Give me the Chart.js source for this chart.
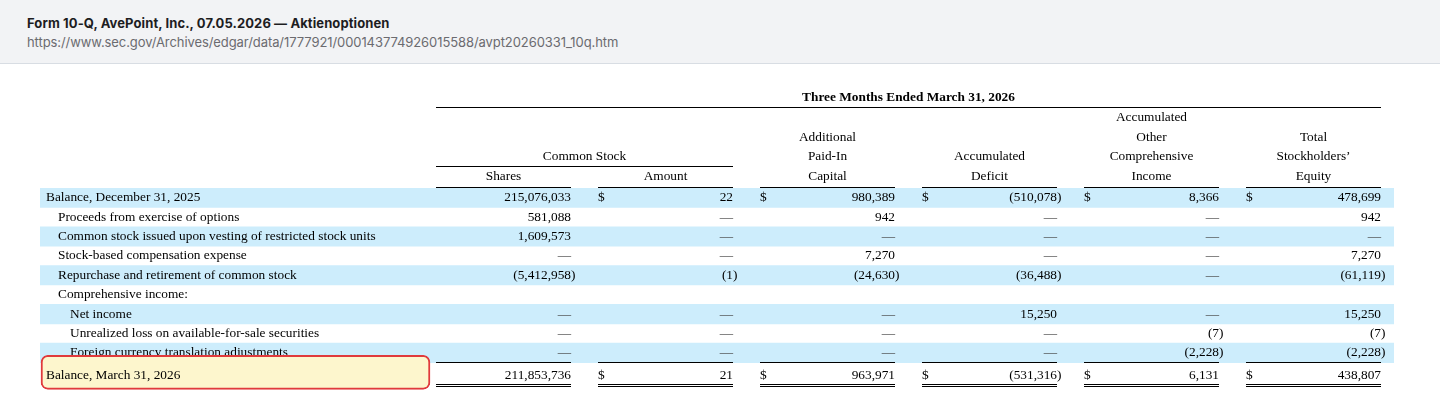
<!DOCTYPE html>
<html>
<head>
<meta charset="utf-8">
<script src="https://cdn.jsdelivr.net/npm/chart.js@4.4.1/dist/chart.umd.min.js"></script>
<style>
  html, body { margin: 0; padding: 0; background: #fff; }
  .head {
    height: 64px; box-sizing: border-box;
    background: #f2f3f5; border-bottom: 1px solid #d8dde3;
    padding: 14px 0 0 27px;
    font-family: Inter, "Noto Sans", sans-serif; font-size: 13px; line-height: 18px;
  }
  .head .t1 { font-weight: 650; color: #1d1d1f; letter-spacing: 0.1px; }
  .head .t2 { color: #6b6b70; margin-top: 1px; letter-spacing: -0.08px; }
  canvas { display: block; }
</style>
</head>
<body>
<div class="head">
  <div class="t1">Form 10-Q, AvePoint, Inc., 07.05.2026 — Aktienoptionen</div>
  <div class="t2">https://www.sec.gov/Archives/edgar/data/1777921/000143774926015588/avpt20260331_10q.htm</div>
</div>
<canvas id="myChart" width="1440" height="355"></canvas>
<script>
// table text
const tableTitle = 'Three Months Ended March 31, 2026';
const groupTitle = 'Common Stock';
const columnHeads = [
  ['Shares'],
  ['Amount'],
  ['Additional', 'Paid-In', 'Capital'],
  ['Accumulated', 'Deficit'],
  ['Accumulated', 'Other', 'Comprehensive', 'Income'],
  ['Total', 'Stockholders\u2019', 'Equity']
];
const rowLabels = [
  'Balance, December 31, 2025',
  'Proceeds from exercise of options',
  'Common stock issued upon vesting of restricted stock units',
  'Stock-based compensation expense',
  'Repurchase and retirement of common stock',
  'Comprehensive income:',
  'Net income',
  'Unrealized loss on available-for-sale securities',
  'Foreign currency translation adjustments',
  'Balance, March 31, 2026'
];
const rowIndent = [0, 1, 1, 1, 1, 1, 2, 2, 2, 0];
const dollarRows = [0, 9];

// values, 0 = dash, null = empty cell
const shares = [215076033, 581088, 1609573, 0, -5412958, null, 0, 0, 0, 211853736];
const amount = [22, 0, 0, 0, -1, null, 0, 0, 0, 21];
const paidInCapital = [980389, 942, 0, 7270, -24630, null, 0, 0, 0, 963971];
const accumulatedDeficit = [-510078, 0, 0, 0, -36488, null, 15250, 0, 0, -531316];
const otherComprehensiveIncome = [8366, 0, 0, 0, 0, null, 0, -7, -2228, 6131];
const totalEquity = [478699, 942, 0, 7270, -61119, null, 15250, -7, -2228, 438807];

const series = [shares, amount, paidInCapital, accumulatedDeficit, otherComprehensiveIncome, totalEquity];

// layout in x-scale units (1 unit = 1px from table left)
const layout = {
  xMax: 1354,
  labelX: 6,
  indentStep: 12,
  colStart: 396,
  colPitch: 162,
  colWidth: 135,
  highlightFrom: 1,
  highlightTo: 390,
  headBottom: -11.5,
  headStep: 19.7,
  titleY: -90,
  titleRule: -81,
  groupRule: -22,
  totalShift: 3
};

const font = '13.33px "Liberation Serif", "Times New Roman", serif';
const boldFont = 'bold 13.33px "Liberation Serif", "Times New Roman", serif';

function fmt(v) {
  if (v === 0) return '\u2014';
  const s = Math.abs(v).toLocaleString('en-US');
  return v < 0 ? '(' + s : s;
}

const tablePlugin = {
  id: 'tableText',
  afterDatasetDraw(chart, args) {
    const { ctx, chartArea, scales: { x, y } } = chart;
    const last = rowLabels.length - 1;
    const rowH = y.getPixelForValue(1) - y.getPixelForValue(0);
    const colL = c => x.getPixelForValue(layout.colStart + c * layout.colPitch);
    const colR = c => x.getPixelForValue(layout.colStart + c * layout.colPitch + layout.colWidth);
    const top = chartArea.top;

    const drawRow = (r, cy) => {
      ctx.font = font;
      ctx.fillStyle = '#000';
      ctx.textAlign = 'left';
      ctx.fillText(rowLabels[r], x.getPixelForValue(layout.labelX) + rowIndent[r] * layout.indentStep, cy);
      series.forEach((col, c) => {
        const v = col[r];
        if (v === null) return;
        if (c > 0 && dollarRows.includes(r)) {
          ctx.textAlign = 'left';
          ctx.fillText('$', colL(c), cy);
        }
        ctx.textAlign = 'right';
        ctx.fillStyle = v === 0 ? '#444' : '#000';
        ctx.fillText(fmt(v), colR(c), cy);
        ctx.fillStyle = '#000';
        if (v < 0) {
          ctx.textAlign = 'left';
          ctx.fillText(')', colR(c), cy);
        }
      });
    };

    ctx.save();
    ctx.textBaseline = 'middle';
    ctx.fillStyle = '#000';
    if (args.index === 0) {
      // headers
      ctx.font = boldFont;
      ctx.textAlign = 'center';
      ctx.fillText(tableTitle, (colL(0) + colR(5)) / 2, top + layout.titleY);
      ctx.fillRect(colL(0), Math.round(top + layout.titleRule), colR(5) - colL(0), 1);

      ctx.font = font;
      ctx.fillText(groupTitle, (colL(0) + colR(1)) / 2, top + layout.headBottom - layout.headStep);
      ctx.fillRect(colL(0), Math.round(top + layout.groupRule), colR(1) - colL(0), 1);

      columnHeads.forEach((lines, c) => {
        const cx = (colL(c) + colR(c)) / 2;
        lines.slice().reverse().forEach((t, k) => {
          ctx.fillText(t, cx, top + layout.headBottom - k * layout.headStep);
        });
        ctx.fillRect(colL(c), Math.round(top) - 1, colR(c) - colL(c), 1);
      });

      for (let r = 0; r < last; r++) drawRow(r, y.getPixelForValue(r));
    } else {
      drawRow(last, y.getPixelForValue(last) + layout.totalShift);
      const ruleTop = Math.round(y.getPixelForValue(last) - rowH / 2) - 1;
      const bottom = Math.round(chartArea.bottom);
      series.forEach((col, c) => {
        const w = colR(c) - colL(c);
        ctx.fillRect(colL(c), ruleTop, w, 1);
        ctx.fillRect(colL(c), bottom + 2, w, 1);
        ctx.fillRect(colL(c), bottom + 4, w, 1);
      });
    }
    ctx.restore();
  }
};

function createChart() {
  const ctx = document.getElementById('myChart');
  const last = rowLabels.length - 1;

  new Chart(ctx, {
    type: 'bar',
    data: {
      labels: rowLabels,
      datasets: [{
        label: 'stripes',
        data: rowLabels.map((_, i) => (i < last && i % 2 === 0) ? [0, layout.xMax] : null),
        backgroundColor: '#cdedfc',
        barPercentage: 1,
        categoryPercentage: 1,
        grouped: false,
        order: 2
      }, {
        label: 'highlight',
        data: rowLabels.map((_, i) => i === last ? [layout.highlightFrom, layout.highlightTo] : null),
        backgroundColor: '#fdf6cd',
        borderColor: '#e03a3c',
        borderWidth: 2,
        borderRadius: 7,
        borderSkipped: false,
        barThickness: 34,
        grouped: false,
        clip: false,
        order: 1
      }]
    },
    options: {
      indexAxis: 'y',
      responsive: false,
      animation: false,
      events: [],
      layout: { padding: { left: 40, right: 46, top: 124, bottom: 37 } },
      plugins: {
        legend: { display: false },
        tooltip: { enabled: false }
      },
      scales: {
        x: { type: 'linear', min: 0, max: layout.xMax, display: false },
        y: { type: 'category', display: false }
      }
    },
    plugins: [tablePlugin]
  });
}

document.fonts.load(font).then(createChart, createChart);
</script>
</body>
</html>
